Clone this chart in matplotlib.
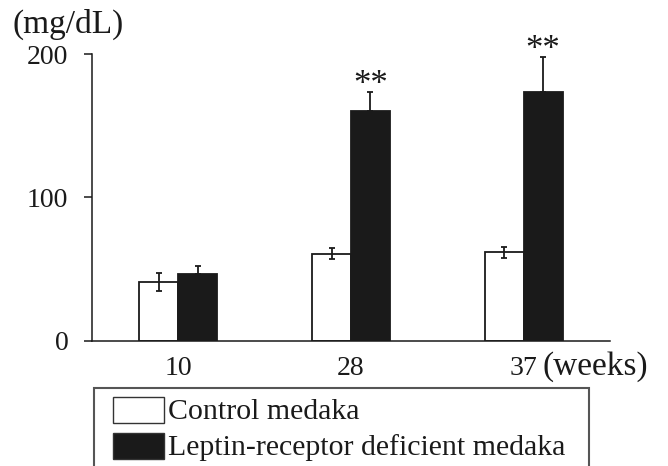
import numpy as np
import matplotlib
matplotlib.use('Agg')
import matplotlib.pyplot as plt
from matplotlib.patches import Rectangle

weeks = ['10', '28', '37']
control_mean = [41.2, 60.7, 61.7]
control_err = [6.3, 3.8, 4.0]
leptin_mean = [46.7, 160.4, 173.3]
leptin_err = [5.4, 13.0, 24.4]
signif = ['', '**', '**']
legend_labels = ['Control medaka', 'Leptin-receptor deficient medaka']

plt.rcParams['font.family'] = ['Liberation Serif', 'DejaVu Serif']
ink = '#1a1a1a'

W, H = 668, 466
fig = plt.figure(figsize=(W / 100, H / 100), dpi=100)
ax = fig.add_axes([92 / W, 1 - 340.7 / H, (610 - 92) / W, (340.7 - 54) / H])

x = np.arange(len(weeks))
width = 0.225

ax.bar(x - width / 2, control_mean, width, color='white', edgecolor=ink, linewidth=1.3, zorder=2)
ax.bar(x + width / 2, leptin_mean, width, color=ink, edgecolor=ink, linewidth=1.3, zorder=2)
ax.errorbar(x - width / 2, control_mean, yerr=control_err, fmt='none', ecolor=ink,
            elinewidth=1.3, capsize=2, capthick=1.3, zorder=3)
ax.errorbar(x + width / 2, leptin_mean, yerr=[np.zeros(len(x)), leptin_err], fmt='none',
            ecolor=ink, elinewidth=1.3, capsize=2, capthick=1.3, zorder=1)

# significance marks above the leptin bars
for xi, m, e, s in zip(x, leptin_mean, leptin_err, signif):
    if s:
        ax.annotate(s, (xi + width / 2, m + e), xytext=(0, -1.5), textcoords='offset points',
                    ha='center', va='baseline', fontsize=25, color=ink)

ax.set_xlim(-0.5, 2.5)
ax.set_ylim(0, 200)
ax.set_yticks([0, 100, 200])
ax.set_xticks(x)
ax.set_xticklabels(weeks)
for side in ['top', 'right']:
    ax.spines[side].set_visible(False)
for side in ['left', 'bottom']:
    ax.spines[side].set_linewidth(1.1)
    ax.spines[side].set_color(ink)
ax.tick_params(axis='y', direction='out', length=6, width=1.1, pad=11, labelsize=20, colors=ink)
ax.tick_params(axis='x', length=0, pad=11, labelsize=20, colors=ink)

fig.text(13 / W, 1 - 24 / H, '(mg/dL)', fontsize=24, va='center', ha='left', color=ink)
fig.text(543 / W, 1 - 367 / H, '(weeks)', fontsize=24, va='center', ha='left', color=ink)

# legend box, drawn by hand (its bottom runs off the figure like the original)
fig.patches.append(Rectangle((94 / W, -0.05), (589 - 94) / W, (1 - 388 / H) + 0.05,
                             transform=fig.transFigure, facecolor='white',
                             edgecolor='#555555', linewidth=1.5))
row_y = [410, 446]
fills = ['white', ink]
for ry, fc, lab in zip(row_y, fills, legend_labels):
    fig.patches.append(Rectangle((113 / W, 1 - (ry + 13) / H), 51 / W, 26 / H,
                                 transform=fig.transFigure, facecolor=fc,
                                 edgecolor='#333333', linewidth=1.0))
    fig.text(168 / W, 1 - (ry + 2) / H, lab, fontsize=21.5, va='center', ha='left', color=ink)

fig.savefig('out.png', dpi=100)
